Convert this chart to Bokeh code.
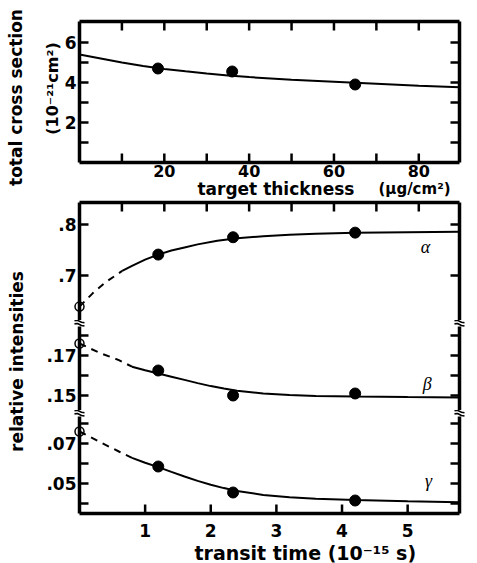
import math
from bokeh.plotting import figure
from bokeh.models import Range1d, LinearAxis, FixedTicker, Label, CustomJSTickFormatter
from bokeh.layouts import row, column
from bokeh.embed import file_html
from bokeh.resources import INLINE
from bokeh.core.properties import value

# ---------------- data ----------------
# upper panel: total cross section vs target thickness
thickness = [18.5, 36, 65]
cross_section = [4.7, 4.55, 3.9]
fit_thickness = [0, 5, 10, 15, 20, 25, 30, 35, 40, 50, 60, 70, 80, 89.6]
fit_cross = [5.4, 5.2, 5.0, 4.83, 4.68, 4.56, 4.45, 4.35, 4.27, 4.14, 4.04, 3.94, 3.84, 3.76]
thick_range = (0, 89.6)
cs_range = (0, 7.05)
thick_major = [20, 40, 60, 80]
thick_minor = [10, 30, 50, 70]
cs_major = [2, 4, 6]
cs_minor = [1, 3, 5]

# lower panel: relative intensities vs transit time
transit = [1.2, 2.34, 4.2]
alpha_I = [0.741, 0.775, 0.784]
beta_I = [0.1625, 0.150, 0.151]
gamma_I = [0.0585, 0.0455, 0.0415]
# extrapolated values at zero transit time (open circles)
zero_t = [0]
alpha_0 = [0.639]
beta_0 = [0.176]
gamma_0 = [0.076]
# fitted curves (dashed extrapolation + solid fit)
alpha_dash_x = [0, 0.2, 0.4, 0.65]
alpha_dash_y = [0.639, 0.665, 0.687, 0.709]
alpha_fit_x = [0.65, 0.8, 1.0, 1.2, 1.4, 1.6, 1.8, 2.1, 2.4, 2.8, 3.2, 3.6, 4.2, 5.0, 5.79]
alpha_fit_y = [0.709, 0.719, 0.731, 0.741, 0.749, 0.755, 0.761, 0.768, 0.773, 0.777, 0.780, 0.782, 0.784, 0.785, 0.786]
beta_dash_x = [0, 0.3, 0.6, 0.8]
beta_dash_y = [0.176, 0.1714, 0.1677, 0.1644]
beta_fit_x = [0.8, 1.0, 1.2, 1.4, 1.6, 1.8, 2.0, 2.2, 2.4, 2.8, 3.2, 3.6, 4.2, 5.0, 5.79]
beta_fit_y = [0.1644, 0.1626, 0.161, 0.1594, 0.1578, 0.1562, 0.1547, 0.1535, 0.1524, 0.1510, 0.1502, 0.1498, 0.1495, 0.1492, 0.149]
gamma_dash_x = [0, 0.3, 0.6, 0.8]
gamma_dash_y = [0.076, 0.0709, 0.066, 0.0628]
gamma_fit_x = [0.8, 1.0, 1.2, 1.4, 1.6, 1.8, 2.0, 2.2, 2.4, 2.8, 3.2, 3.6, 4.2, 5.0, 5.79]
gamma_fit_y = [0.0628, 0.0604, 0.0582, 0.0558, 0.0535, 0.0513, 0.0494, 0.0477, 0.0463, 0.0443, 0.0431, 0.0424, 0.0417, 0.0411, 0.0406]
time_range = (0, 5.79)
time_ticks = [1, 2, 3, 4, 5]
alpha_range = (0.6118, 0.8431)
beta_range = (0.1425, 0.1845)
gamma_range = (0.035, 0.0835)
alpha_ticks = [0.7, 0.8]
beta_major = [0.15, 0.17]
beta_minor = [0.16, 0.18]
gamma_major = [0.05, 0.07]
gamma_minor = [0.04, 0.06, 0.08]

FONT = "DejaVu Sans"
SERIF = "Liberation Serif"
TICK_LEN = 9          # px, inward tick length
TICK_W = 2.5          # px, tick thickness
FRAME_W = 380         # px, plot-frame width of every panel


def axis(ticks=None, minor=None, standoff=3, size="17px", **kw):
    ticker = FixedTicker(ticks=ticks or [], minor_ticks=minor or [])
    ax = LinearAxis(ticker=ticker, **kw)
    ax.axis_line_width = 3.5
    ax.axis_line_color = "black"
    ax.major_tick_in = 0
    ax.major_tick_out = 0
    ax.minor_tick_in = 0
    ax.minor_tick_out = 0
    ax.major_label_text_font = FONT
    ax.major_label_text_font_style = "bold"
    ax.major_label_text_color = "black"
    ax.major_label_text_font_size = size
    ax.major_label_standoff = standoff
    return ax


def base_fig(width, height, xr, yr, top, bottom, **kw):
    p = figure(width=width, height=height, x_range=Range1d(*xr), y_range=Range1d(*yr),
               output_backend="svg", toolbar_location=None,
               x_axis_location=None, y_axis_location=None,
               min_border_left=41, min_border_right=18,
               min_border_top=top, min_border_bottom=bottom, **kw)
    p.outline_line_color = None
    p.background_fill_color = "white"
    p.border_fill_color = "white"
    for g in p.grid:
        g.visible = False
    return p


def side_ticks(p, xr, yr, frame_h, yticks):
    """inward ticks on the left and right frame edges, as small filled bars"""
    dx = TICK_LEN * (xr[1] - xr[0]) / FRAME_W
    hy = 0.5 * TICK_W * (yr[1] - yr[0]) / frame_h
    n = len(yticks)
    bottoms = [t - hy for t in yticks]
    tops = [t + hy for t in yticks]
    p.quad(left=[xr[0]] * n, right=[xr[0] + dx] * n, bottom=bottoms, top=tops,
           fill_color="black", line_color=None)
    p.quad(left=[xr[1] - dx] * n, right=[xr[1]] * n, bottom=bottoms, top=tops,
           fill_color="black", line_color=None)


def edge_ticks(p, xticks, xr, yr, frame_h, top, **kw):
    """inward ticks on the top or bottom frame edge, as small filled bars"""
    dy = TICK_LEN * (yr[1] - yr[0]) / frame_h
    hx = 0.5 * TICK_W * (xr[1] - xr[0]) / FRAME_W
    n = len(xticks)
    if top:
        b, t = yr[1] - dy, yr[1]
    else:
        b, t = yr[0], yr[0] + dy
    p.quad(left=[x - hx for x in xticks], right=[x + hx for x in xticks],
           bottom=[b] * n, top=[t] * n, fill_color="black", line_color=None, **kw)


def break_mark(p, x, y, xr, yr, frame_h):
    """two short wavy strokes across a broken axis, centred at (x, y)"""
    sx = (xr[1] - xr[0]) / FRAME_W
    sy = (yr[1] - yr[0]) / frame_h
    px = [-5, -2, 2, 5]
    for off in (1.6, -1.6):
        py = [off + 1.2, off + 1.6, off - 0.4, off - 0.9]
        p.line([x + a * sx for a in px], [y + b * sy for b in py],
               line_color="black", line_width=1.6, level="overlay")


def overlay_text(p, x, y, text, size, align="center", baseline="middle", angle=0,
                 font=FONT, style="bold"):
    p.text(x=[x], y=[y], text=[text], angle=angle, text_align=align,
           text_baseline=baseline, text_font=value(font), text_font_style=style,
           text_font_size=size, text_color="black", level="overlay")


# ---------------- title strip (left) ----------------
tf = figure(width=38, height=563, x_range=Range1d(0, 38), y_range=Range1d(0, 563),
            output_backend="svg", toolbar_location=None,
            x_axis_location=None, y_axis_location=None,
            min_border_left=0, min_border_right=0, min_border_top=0, min_border_bottom=0)
tf.outline_line_color = None
for g in tf.grid:
    g.visible = False
tf.add_layout(Label(x=15, y=466, text="total cross section", angle=math.pi / 2,
                    text_align="center", text_baseline="middle", text_font=FONT,
                    text_font_style="bold", text_font_size="17px", text_color="black"))
tf.add_layout(Label(x=16, y=202, text="relative intensities", angle=math.pi / 2,
                    text_align="center", text_baseline="middle", text_font=FONT,
                    text_font_style="bold", text_font_size="17px", text_color="black"))

# ---------------- upper panel ----------------
H1 = 141
p1 = base_fig(439, 199, thick_range, cs_range, 21, 37)
p1.add_layout(axis(thick_major, thick_minor, standoff=2, size="16px"), "below")
p1.add_layout(axis(), "above")
p1.add_layout(axis(cs_major, cs_minor, standoff=3), "left")
p1.add_layout(axis(), "right")
side_ticks(p1, thick_range, cs_range, H1, cs_major + cs_minor)
edge_ticks(p1, thick_major + thick_minor, thick_range, cs_range, H1, top=False)
edge_ticks(p1, thick_major + thick_minor, thick_range, cs_range, H1, top=True)

p1.line(fit_thickness, fit_cross, line_color="black", line_width=2)
p1.scatter(thickness, cross_section, size=11, fill_color="black", line_color="black")

overlay_text(p1, -6.4, 3.7, "(10⁻²¹cm²)", "16px", angle=math.pi / 2)
overlay_text(p1, 27.8, -1.33, "target thickness", "17px", align="left", baseline="alphabetic")
overlay_text(p1, 70.5, -1.33, "(μg/cm²)", "15px", align="left", baseline="alphabetic")

# ---------------- lower panel (broken axis: three stacked segments) ----------------
fmt1 = CustomJSTickFormatter(code="return tick.toFixed(1).replace(/^0/, '')")
fmt2 = CustomJSTickFormatter(code="return tick.toFixed(2).replace(/^0/, '')")

# alpha segment
HA = 118
pa = base_fig(439, 121, time_range, alpha_range, 3, 0,
              extra_x_ranges={"thick": Range1d(*thick_range)})
pa.add_layout(axis(alpha_ticks, formatter=fmt1), "left")
pa.add_layout(axis(), "right")
pa.add_layout(axis(x_range_name="thick"), "above")
side_ticks(pa, time_range, alpha_range, HA, alpha_ticks)
edge_ticks(pa, thick_major + thick_minor, thick_range, alpha_range, HA, top=True,
           x_range_name="thick")
pa.line(alpha_dash_x, alpha_dash_y, line_color="black", line_width=2, line_dash="7 6")
pa.line(alpha_fit_x, alpha_fit_y, line_color="black", line_width=2)
pa.scatter(transit, alpha_I, size=11, fill_color="black", line_color="black")
pa.scatter(zero_t, alpha_0, size=9, fill_color=None, line_color="black", line_width=1.5,
           level="overlay")
pa.add_layout(Label(x=5.27, y=0.755, text="α", text_align="center", text_baseline="middle",
                    text_font=SERIF, text_font_style="italic", text_font_size="18px",
                    text_color="black"))

# beta segment
HB = 84
pb = base_fig(439, 90, time_range, beta_range, 6, 0)
pb.add_layout(axis(beta_major, beta_minor, formatter=fmt2), "left")
pb.add_layout(axis(), "right")
side_ticks(pb, time_range, beta_range, HB, beta_major + beta_minor)
pb.line(beta_dash_x, beta_dash_y, line_color="black", line_width=2, line_dash="7 6")
pb.line(beta_fit_x, beta_fit_y, line_color="black", line_width=2)
pb.scatter(transit, beta_I, size=11, fill_color="black", line_color="black")
pb.scatter(zero_t, beta_0, size=9, fill_color=None, line_color="black", line_width=1.5,
           level="overlay")
pb.add_layout(Label(x=5.30, y=0.156, text="β", text_align="center", text_baseline="middle",
                    text_font=SERIF, text_font_style="italic", text_font_size="18px",
                    text_color="black"))

# gamma segment
HC = 97
pc = base_fig(439, 153, time_range, gamma_range, 6, 50)
pc.add_layout(axis(gamma_major, gamma_minor, formatter=fmt2), "left")
pc.add_layout(axis(), "right")
pc.add_layout(axis(time_ticks, standoff=10), "below")
side_ticks(pc, time_range, gamma_range, HC, gamma_major + gamma_minor)
edge_ticks(pc, time_ticks, time_range, gamma_range, HC, top=False)
pc.line(gamma_dash_x, gamma_dash_y, line_color="black", line_width=2, line_dash="7 6")
pc.line(gamma_fit_x, gamma_fit_y, line_color="black", line_width=2)
pc.scatter(transit, gamma_I, size=11, fill_color="black", line_color="black")
pc.scatter(zero_t, gamma_0, size=9, fill_color=None, line_color="black", line_width=1.5,
           level="overlay")
pc.add_layout(Label(x=5.32, y=0.0515, text="γ", text_align="center", text_baseline="middle",
                    text_font=SERIF, text_font_style="italic", text_font_size="18px",
                    text_color="black"))
overlay_text(pc, 3.44, 0.0155, "transit time (10⁻¹⁵ s)", "19px", baseline="alphabetic")

# axis-break marks (in the 6 px gap above the beta and gamma segments)
for p, yr, fh in ((pb, beta_range, HB), (pc, gamma_range, HC)):
    ymark = yr[1] + 3 * (yr[1] - yr[0]) / fh
    for xb in time_range:
        break_mark(p, xb, ymark, time_range, yr, fh)

layout = row(tf, column(p1, pa, pb, pc))

with open("out.html", "w") as f:
    f.write(file_html(layout, INLINE))
